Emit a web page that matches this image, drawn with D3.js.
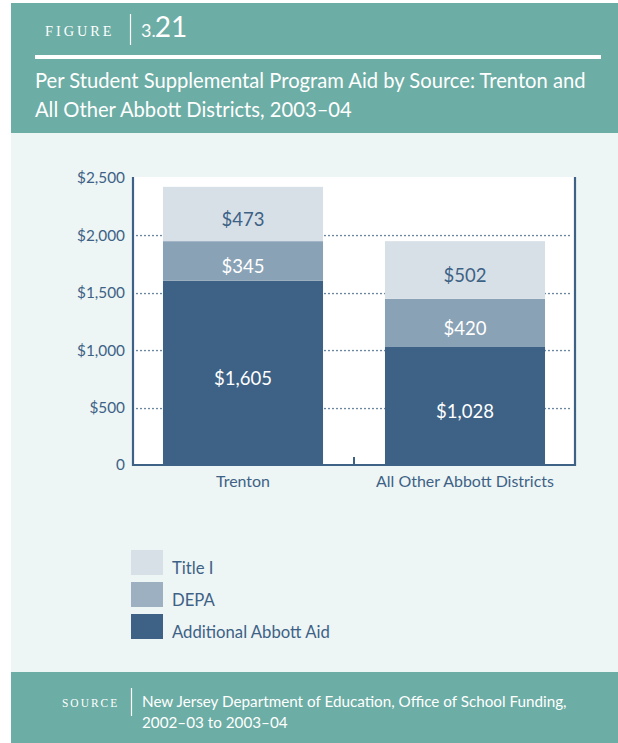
<!DOCTYPE html>
<html>
<head>
<meta charset="utf-8">
<script src="https://cdn.jsdelivr.net/npm/d3@7"></script>
<style>
  html, body { margin: 0; padding: 0; background: #ffffff; }
  svg { display: block; }
  text { font-family: Lato, "Open Sans", sans-serif; }
</style>
</head>
<body>
<svg id="chart" width="618" height="743"></svg>
<script>
// ---- Data ----
const categories = ["Trenton", "All Other Abbott Districts"];
const seriesNames = ["Additional Abbott Aid", "DEPA", "Title I"];
const additionalAbbottAid = [1605, 1028];
const depa = [345, 420];
const titleI = [473, 502];
const yTicks = [0, 500, 1000, 1500, 2000, 2500];
const yTickLabels = ["0", "$500", "$1,000", "$1,500", "$2,000", "$2,500"];
const legendOrder = ["Title I", "DEPA", "Additional Abbott Aid"];
const figureLabel = "FIGURE";
const figureNumberA = "3.";
const figureNumberB = "21";
const titleLines = ["Per Student Supplemental Program Aid by Source: Trenton and",
                    "All Other Abbott Districts, 2003–04"];
const sourceLabel = "SOURCE";
const sourceLines = ["New Jersey Department of Education, Office of School Funding,",
                     "2002–03 to 2003–04"];

// ---- Styles ----
const teal = "#6cada5";
const panelBg = "#eef5f5";
const ink = "#3d6285";
const barColors = { "Additional Abbott Aid": "#3d6285", "DEPA": "#8aa2b6", "Title I": "#d8e0e7" };
const legendColors = { "Additional Abbott Aid": "#3d6285", "DEPA": "#9db0c1", "Title I": "#d8e0e7" };
const labelColors = { "Additional Abbott Aid": "#ffffff", "DEPA": "#ffffff", "Title I": "#3d6285" };

const svg = d3.select("#chart");

function fit(sel, target, start) {
  sel.style("font-size", start + "px");
  const w = sel.node().getComputedTextLength();
  const s = start * target / w;
  sel.style("font-size", s + "px");
  return s;
}

// ---- Panels ----
svg.append("rect").attr("x", 11).attr("y", 3).attr("width", 607).attr("height", 130).attr("fill", teal);
svg.append("rect").attr("x", 11).attr("y", 133).attr("width", 607).attr("height", 539).attr("fill", panelBg);
svg.append("rect").attr("x", 11).attr("y", 672).attr("width", 607).attr("height", 71).attr("fill", teal);

// ---- Header ----
const fig = svg.append("text").attr("x", 45).attr("y", 36)
  .attr("fill", "#ffffff").style("font-family", "'Liberation Serif', 'DejaVu Serif', serif")
  .style("letter-spacing", "3px").text(figureLabel);
fit(fig, 75, 11);
svg.append("line").attr("x1", 130.5).attr("x2", 130.5).attr("y1", 14).attr("y2", 45)
  .attr("stroke", "#ffffff").attr("stroke-width", 1.2);
const num = svg.append("text").attr("x", 141).attr("y", 37).attr("fill", "#ffffff");
num.append("tspan").style("font-size", "18px").text(figureNumberA);
num.append("tspan").style("font-size", "28px").attr("dx", -1).text(figureNumberB);
svg.append("rect").attr("x", 35).attr("y", 55).attr("width", 566).attr("height", 4).attr("fill", "#ffffff");
const t1 = svg.append("text").attr("x", 35).attr("y", 88).attr("fill", "#ffffff").text(titleLines[0]);
const ts = fit(t1, 551, 20);
svg.append("text").attr("x", 35).attr("y", 117).attr("fill", "#ffffff").style("font-size", ts + "px").text(titleLines[1]);

// ---- Chart ----
const x = d3.scaleBand().domain(categories).range([133, 575]).paddingInner(0.279).paddingOuter(0.135);
const y = d3.scaleLinear().domain([0, 2500]).range([465, 178]);

const rows = categories.map((c, i) => ({
  category: c,
  "Additional Abbott Aid": additionalAbbottAid[i],
  "DEPA": depa[i],
  "Title I": titleI[i]
}));
const stacked = d3.stack().keys(seriesNames)(rows);

// plot background
svg.append("rect").attr("x", x.range()[0]).attr("y", y(2500) - 1)
  .attr("width", x.range()[1] - x.range()[0]).attr("height", y(0) - y(2500) + 1).attr("fill", "#ffffff");

// dotted gridlines
svg.append("g").selectAll("line").data(yTicks.filter(d => d > 0 && d < 2500)).join("line")
  .attr("x1", x.range()[0] + 4).attr("x2", x.range()[1] - 2)
  .attr("y1", d => Math.round(y(d)) + 0.5).attr("y2", d => Math.round(y(d)) + 0.5)
  .attr("stroke", ink).attr("stroke-width", 1.7)
  .attr("stroke-linecap", "round").attr("stroke-dasharray", "0,4");

// bars
const layers = svg.append("g").selectAll("g").data(stacked).join("g")
  .attr("fill", d => barColors[d.key]);
layers.selectAll("rect").data(d => d).join("rect")
  .attr("x", d => x(d.data.category))
  .attr("width", x.bandwidth())
  .attr("y", d => y(d[1]))
  .attr("height", d => y(d[0]) - y(d[1]));

// value labels
const fmt = v => "$" + d3.format(",")(v);
const valueG = svg.append("g");
stacked.forEach(layer => {
  layer.forEach(d => {
    valueG.append("text")
      .attr("x", x(d.data.category) + x.bandwidth() / 2)
      .attr("y", (y(d[0]) + y(d[1])) / 2 + 6)
      .attr("dy", "0.35em")
      .attr("text-anchor", "middle")
      .attr("fill", labelColors[layer.key])
      .text(fmt(d[1] - d[0]));
  });
});
const refV = valueG.selectAll("text").filter(function() { return this.textContent === "$1,605"; });
const vs = fit(refV, 58, 18);
valueG.selectAll("text").style("font-size", vs + "px");

// axes lines
const axisG = svg.append("g").attr("stroke", ink).attr("fill", "none");
axisG.append("line").attr("x1", 133).attr("x2", 133).attr("y1", y(2500) - 1).attr("y2", y(0) + 1).attr("stroke-width", 2.2);
axisG.append("line").attr("x1", 575).attr("x2", 575).attr("y1", y(2500) - 1).attr("y2", y(0) + 1).attr("stroke-width", 2.2);
axisG.append("line").attr("x1", 132).attr("x2", 576).attr("y1", y(0)).attr("y2", y(0)).attr("stroke-width", 2.2);
axisG.append("line").attr("x1", (x.range()[0] + x.range()[1]) / 2).attr("x2", (x.range()[0] + x.range()[1]) / 2)
  .attr("y1", y(0) - 8).attr("y2", y(0)).attr("stroke-width", 2);

// y axis labels
const yAxis = svg.append("g").attr("transform", "translate(133,0)")
  .call(d3.axisLeft(y).tickValues(yTicks).tickSize(0).tickPadding(8)
    .tickFormat((d, i) => yTickLabels[i]));
yAxis.select(".domain").remove();
yAxis.selectAll("text").attr("fill", ink).style("font-family", "Lato, 'Open Sans', sans-serif");
const refY = yAxis.selectAll("text").filter(function() { return this.textContent === "$2,500"; });
const ys = fit(refY, 48, 14);
yAxis.selectAll("text").style("font-size", ys + "px");

// x axis labels
const xAxis = svg.append("g").attr("transform", `translate(0,${y(0)})`)
  .call(d3.axisBottom(x).tickSize(0).tickPadding(11));
xAxis.select(".domain").remove();
xAxis.selectAll("text").attr("fill", ink).style("font-family", "Lato, 'Open Sans', sans-serif");
const refX = xAxis.selectAll("text").filter(function() { return this.textContent === categories[1]; });
const xs = fit(refX, 178, 14);
xAxis.selectAll("text").style("font-size", xs + "px");

// ---- Legend ----
const leg = svg.append("g").selectAll("g").data(legendOrder).join("g")
  .attr("transform", (d, i) => `translate(131,${550 + i * 32})`);
leg.append("rect").attr("width", 32).attr("height", 25).attr("fill", d => legendColors[d]);
const legText = leg.append("text").attr("x", 41).attr("y", 24).attr("fill", ink).text(d => d);
const refL = legText.filter(d => d === "Additional Abbott Aid");
const ls = fit(refL, 158, 16);
legText.style("font-size", ls + "px");

// ---- Footer ----
const src = svg.append("text").attr("x", 62).attr("y", 707)
  .attr("fill", "#ffffff").style("font-family", "'Liberation Serif', 'DejaVu Serif', serif")
  .style("letter-spacing", "2px").text(sourceLabel);
fit(src, 59, 10);
svg.append("line").attr("x1", 131.5).attr("x2", 131.5).attr("y1", 688).attr("y2", 716)
  .attr("stroke", "#ffffff").attr("stroke-width", 1.2);
const s1 = svg.append("text").attr("x", 142).attr("y", 707).attr("fill", "#ffffff").text(sourceLines[0]);
const ss = fit(s1, 425, 14);
svg.append("text").attr("x", 142).attr("y", 728).attr("fill", "#ffffff").style("font-size", ss + "px").text(sourceLines[1]);
</script>
</body>
</html>
